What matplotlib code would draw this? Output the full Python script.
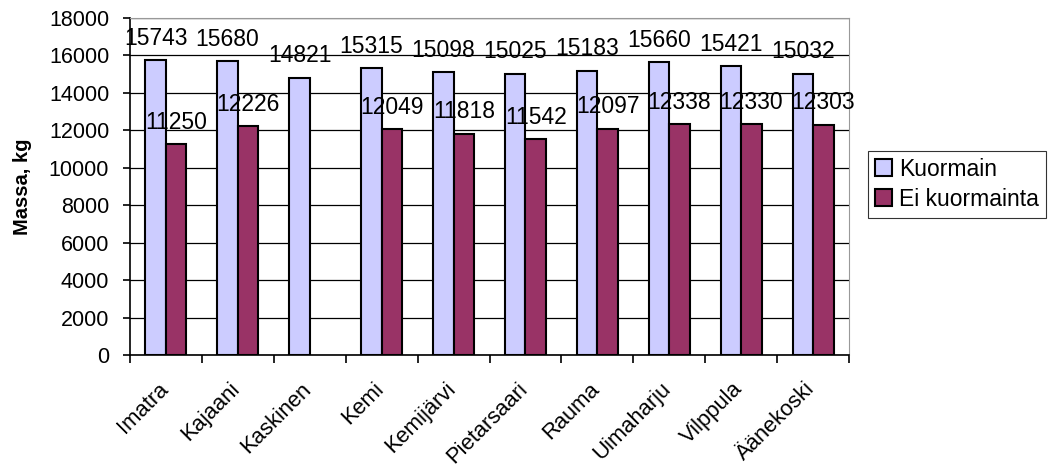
import numpy as np
import matplotlib.pyplot as plt

# data
places = ['Imatra', 'Kajaani', 'Kaskinen', 'Kemi', 'Kemijärvi', 'Pietarsaari',
          'Rauma', 'Uimaharju', 'Vilppula', 'Äänekoski']
kuormain = [15743, 15680, 14821, 15315, 15098, 15025, 15183, 15660, 15421, 15032]
ei_kuormainta = [11250, 12226, np.nan, 12049, 11818, 11542, 12097, 12338, 12330, 12303]

plt.rcParams['font.family'] = ['Liberation Sans', 'DejaVu Sans']

fig = plt.figure(figsize=(10.51, 4.68), dpi=100)
ax = fig.add_axes([0.1237, 0.2415, 0.6841, 0.72])

x = np.arange(len(places))
w = 0.285
ax.bar(x - w/2, kuormain, w, color='#CCCCFF', edgecolor='black', linewidth=1.5,
       label='Kuormain', zorder=3)
ax.bar(x + w/2, ei_kuormainta, w, color='#993366', edgecolor='black', linewidth=1.5,
       label='Ei kuormainta', zorder=3)

for xi, v in zip(x - w/2, kuormain):
    ax.annotate(f'{v}', (xi, v), xytext=(0, 11), textcoords='offset points',
                ha='center', va='baseline', fontsize=16.5, zorder=4)
for xi, v in zip(x + w/2, ei_kuormainta):
    if not np.isnan(v):
        ax.annotate(f'{int(v)}', (xi, v), xytext=(0, 11), textcoords='offset points',
                    ha='center', va='baseline', fontsize=16.5, zorder=4)

ax.set_xlim(-0.5, len(places) - 0.5)
ax.set_ylim(0, 18000)
ax.set_yticks(np.arange(0, 18001, 2000))
ax.tick_params(axis='y', labelsize=15.5, direction='out', length=5, width=1.2, pad=10)
ax.yaxis.grid(True, color='black', linewidth=0.9, zorder=0)

# category boundary ticks, labels slightly left of centre like Excel
ax.set_xticks(np.arange(-0.5, len(places), 1), minor=False)
ax.set_xticklabels([])
ax.set_xticks(x - 0.12, minor=True)
ax.set_xticklabels(places, minor=True, rotation=45, ha='right', rotation_mode='anchor',
                   fontsize=15.8)
ax.tick_params(axis='x', which='major', direction='out', length=6, width=1.2)
ax.tick_params(axis='x', which='minor', length=0, pad=17)

ax.spines['left'].set_linewidth(1.2)
ax.spines['bottom'].set_linewidth(1.2)
ax.spines['right'].set_color('#999999')
ax.spines['top'].set_color('#999999')

ax.set_ylabel('Massa, kg', fontsize=14.5, fontweight='bold', labelpad=12)

leg = fig.legend(loc='upper left', bbox_to_anchor=(868/1051, 1 - 151/468), fontsize=16.5,
                 frameon=True, fancybox=False, edgecolor='black', handlelength=0.75,
                 handleheight=0.75, handletextpad=0.3, borderpad=0.3, labelspacing=0.3,
                 borderaxespad=0)
leg.get_frame().set_linewidth(0.8)

plt.savefig('out.png', dpi=100)
